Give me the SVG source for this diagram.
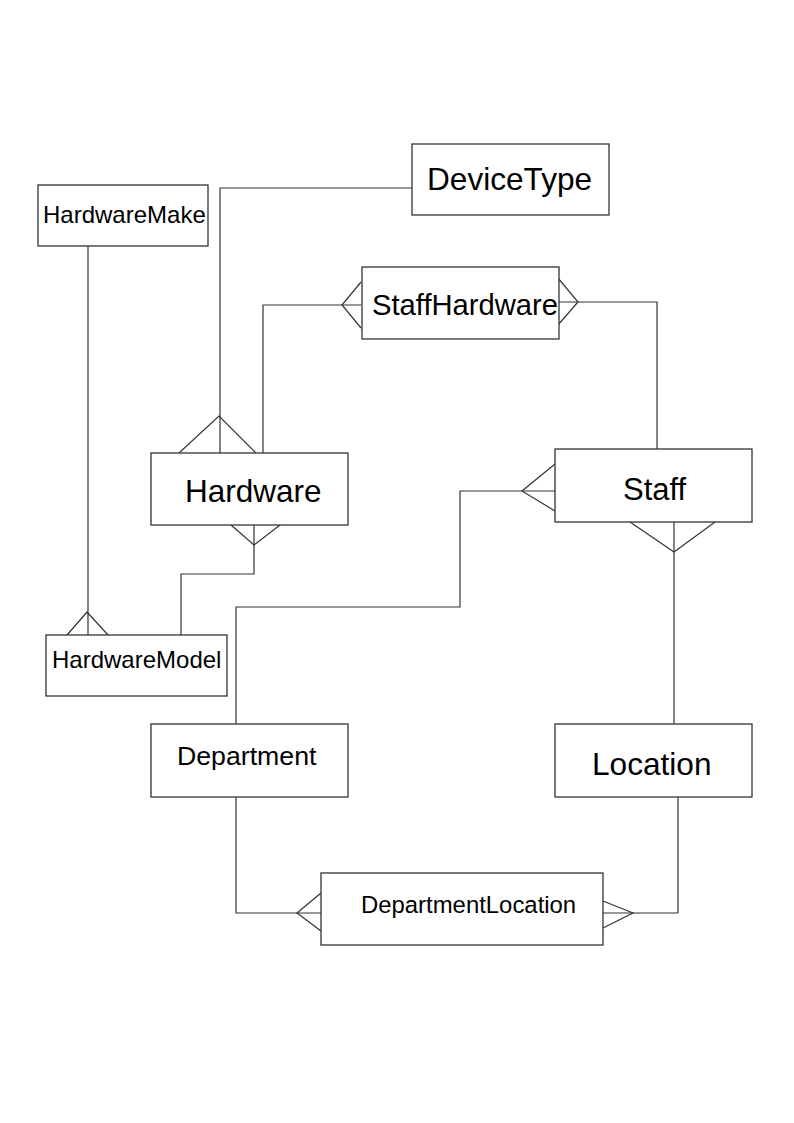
<svg xmlns="http://www.w3.org/2000/svg" width="794" height="1123" viewBox="0 0 794 1123">
<style>
.box{fill:#fff;stroke:#333;stroke-width:1.3}
.ln{fill:none;stroke:#333;stroke-width:1.2}
text{font-family:"Liberation Sans",Arial,sans-serif;fill:#000}
</style>
<rect width="794" height="1123" fill="#fff"/>
<g id="connectors">
<polyline class="ln" points="412,188 220,188 220,453"/>
<polyline class="ln" points="179,453 219,416 256,453"/>
<polyline class="ln" points="263,456 263,305 361,305"/>
<polyline class="ln" points="361,282 342,305 361,328"/>
<polyline class="ln" points="558,302 657,302 657,449"/>
<polyline class="ln" points="558,278 578,302 558,325"/>
<polyline class="ln" points="555,491 460,491 460,607 236,607 236,724"/>
<polyline class="ln" points="555,464 522,491 555,511"/>
<polyline class="ln" points="674,522 674,724"/>
<polyline class="ln" points="630,522 674,552 715,522"/>
<polyline class="ln" points="254,525 254,574 181,574 181,635"/>
<polyline class="ln" points="231,525 254,545 280,525"/>
<polyline class="ln" points="88,246 88,635"/>
<polyline class="ln" points="67,635 87,612 108,635"/>
<polyline class="ln" points="236,797 236,913 321,913"/>
<polyline class="ln" points="321,893 297,913 321,931"/>
<polyline class="ln" points="678,797 678,913 603,913"/>
<polyline class="ln" points="603,901 633,913 603,928"/>
</g>
<g id="DeviceType"><rect class="box" x="412" y="144" width="197" height="71"/><text x="427" y="190" font-size="31.6">DeviceType</text></g>
<g id="HardwareMake"><rect class="box" x="38" y="185" width="170" height="61"/><text x="43" y="223" font-size="24">HardwareMake</text></g>
<g id="StaffHardware"><rect class="box" x="362" y="267" width="197" height="72"/><text x="372" y="315" font-size="29.2">StaffHardware</text></g>
<g id="Hardware"><rect class="box" x="151" y="453" width="197" height="72"/><text x="185" y="502" font-size="31.5">Hardware</text></g>
<g id="Staff"><rect class="box" x="555" y="449" width="197" height="73"/><text x="623" y="500" font-size="31">Staff</text></g>
<g id="HardwareModel"><rect class="box" x="46" y="635" width="181" height="61"/><text x="52" y="668" font-size="24">HardwareModel</text></g>
<g id="Department"><rect class="box" x="151" y="724" width="197" height="73"/><text x="177" y="765" font-size="26.7">Department</text></g>
<g id="Location"><rect class="box" x="555" y="724" width="197" height="73"/><text x="592" y="775" font-size="31.6">Location</text></g>
<g id="DepartmentLocation"><rect class="box" x="321" y="873" width="282" height="72"/><text x="361" y="913" font-size="23.9">DepartmentLocation</text></g>
</svg>
